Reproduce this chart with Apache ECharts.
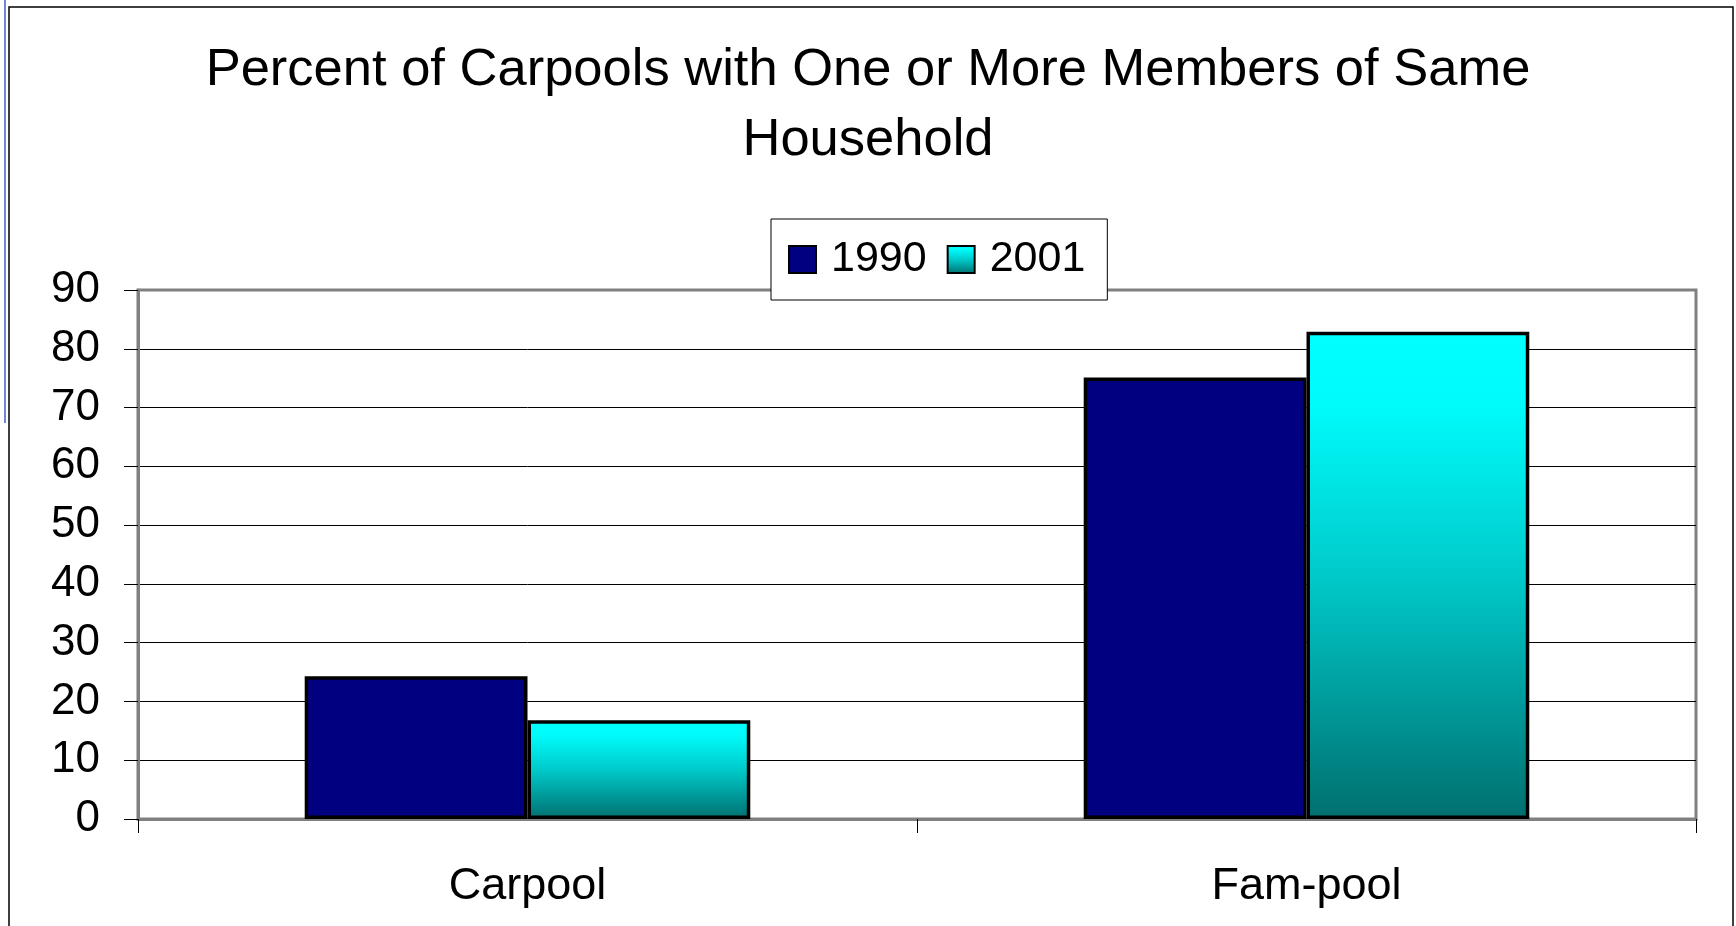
<!DOCTYPE html>
<html>
<head>
<meta charset="utf-8">
<script src="https://cdn.jsdelivr.net/npm/echarts@6/dist/echarts.min.js"></script>
<style>
html,body{margin:0;padding:0;background:#fff;}
#chart{width:1736px;height:926px;}
</style>
</head>
<body>
<div id="chart"></div>
<script>
const titleText = 'Percent of Carpools with One or More Members of Same\nHousehold';
const categories = ['Carpool', 'Fam-pool'];
const seriesNames = ['1990', '2001'];
const values1990 = [24.3, 75.1];
const values2001 = [16.8, 82.9];
const yTicks = [0, 10, 20, 30, 40, 50, 60, 70, 80, 90];

const FONT = '"Liberation Sans", Arial, sans-serif';
const chart = echarts.init(document.getElementById('chart'), null, {renderer: 'canvas'});

const cyanGrad = new echarts.graphic.LinearGradient(0, 0, 0, 1, [
  {offset: 0, color: '#00ffff'},
  {offset: 0.15, color: '#00fbfb'},
  {offset: 0.5, color: '#00caca'},
  {offset: 1, color: '#006f6f'}
]);

chart.setOption({
  backgroundColor: '#ffffff',
  animation: false,
  title: {
    text: titleText,
    left: 'center',
    top: 31,
    textStyle: {fontFamily: FONT, fontSize: 52.5, fontWeight: 'normal', color: '#000', lineHeight: 70}
  },
  legend: {
    data: seriesNames,
    left: 771,
    top: 219,
    orient: 'horizontal',
    icon: 'rect',
    itemWidth: 27,
    itemHeight: 27,
    itemGap: 20,
    padding: [19, 22, 19, 17],
    backgroundColor: '#ffffff',
    borderColor: '#000000',
    borderWidth: 1,
    z: 10,
    textStyle: {fontFamily: FONT, fontSize: 43, color: '#000', lineHeight: 40, padding: [0, 0, 0, 10]}
  },
  grid: {
    left: 138, right: 40, top: 290, bottom: 107,
    show: true, borderColor: '#808080', borderWidth: 3, backgroundColor: 'transparent'
  },
  xAxis: {
    type: 'category',
    data: categories,
    axisLine: {show: true, lineStyle: {color: '#808080', width: 3}},
    axisTick: {show: true, length: 14, lineStyle: {color: '#000', width: 1}},
    axisLabel: {fontFamily: FONT, fontSize: 45, color: '#000', margin: 45}
  },
  yAxis: {
    type: 'value',
    min: yTicks[0],
    max: yTicks[yTicks.length - 1],
    interval: 10,
    axisLine: {show: true, lineStyle: {color: '#808080', width: 3}},
    axisTick: {show: true, length: 14, lineStyle: {color: '#000', width: 1}},
    axisLabel: {fontFamily: FONT, fontSize: 44, color: '#000', margin: 38},
    splitLine: {show: true, showMinLine: false, showMaxLine: false, lineStyle: {color: '#000', width: 1}}
  },
  series: [
    {
      name: seriesNames[0], type: 'bar', data: values1990,
      barGap: '0%', barCategoryGap: '42.8%',
      itemStyle: {color: '#000080', borderColor: '#000', borderWidth: 3.5}
    },
    {
      name: seriesNames[1], type: 'bar', data: values2001,
      barGap: '0%', barCategoryGap: '42.8%',
      itemStyle: {color: cyanGrad, borderColor: '#000', borderWidth: 3.5}
    }
  ],
  graphic: [
    {type: 'rect', silent: true, z: -1, shape: {x: 9, y: 7, width: 1724, height: 1000},
     style: {fill: 'none', stroke: '#000', lineWidth: 1.5}},
    {type: 'line', silent: true, shape: {x1: 5, y1: 0, x2: 5, y2: 423},
     style: {stroke: '#6f86e0', lineWidth: 2}}
  ]
});
</script>
</body>
</html>
